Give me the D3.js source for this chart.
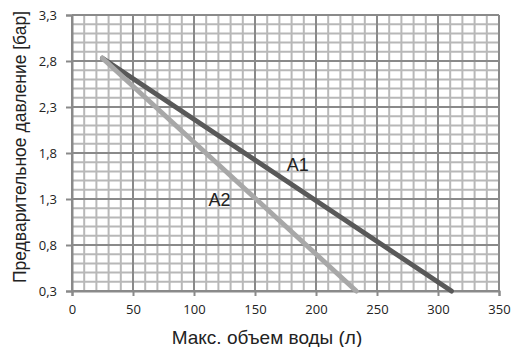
<!DOCTYPE html>
<html><head><meta charset="utf-8">
<script src="https://cdn.jsdelivr.net/npm/d3@7"></script>
<style>body{margin:0;background:#fff}svg{display:block}</style>
</head><body>
<svg id="c" width="511" height="347"></svg>
<script>
const xTicks = [0, 50, 100, 150, 200, 250, 300, 350];
const yTicks = [0.3, 0.8, 1.3, 1.8, 2.3, 2.8, 3.3];
const seriesNames = ["A1", "A2"];
const a1Volume = [25, 311];
const a1Pressure = [2.83, 0.3];
const a2Volume = [25, 233];
const a2Pressure = [2.83, 0.3];
const labelPos = [[185, 1.604], [121, 1.224]];
const xTitle = "Макс. объем воды (л)";
const yTitle = "Предварительное давление [бар]";

const svg = d3.select("#c");
const L = 72, R = 499, T = 15, B = 291;
const x = d3.scaleLinear().domain([0, 350]).range([L, R]);
const y = d3.scaleLinear().domain([0.3, 3.3]).range([B, T]);
const fmt = d => d.toFixed(1).replace(".", ",");

// minor grid
const xMinor = d3.range(0, 351, 10);
const yMinor = d3.range(0, 31).map(i => 0.3 + i * 0.1);
const g = svg.append("g");
g.selectAll(".vx").data(xMinor).join("line")
  .attr("x1", d => x(d)).attr("x2", d => x(d)).attr("y1", T).attr("y2", B)
  .attr("stroke", "#b8b8b8").attr("stroke-width", 2);
g.selectAll(".hy").data(yMinor).join("line")
  .attr("y1", d => y(d)).attr("y2", d => y(d)).attr("x1", L).attr("x2", R)
  .attr("stroke", "#b8b8b8").attr("stroke-width", 2);
// major grid
g.selectAll(".mx").data(xTicks).join("line")
  .attr("x1", d => x(d)).attr("x2", d => x(d)).attr("y1", T).attr("y2", B)
  .attr("stroke", "#8a8a8a").attr("stroke-width", 2);
g.selectAll(".my").data(yTicks).join("line")
  .attr("y1", d => y(d)).attr("y2", d => y(d)).attr("x1", L).attr("x2", R)
  .attr("stroke", "#8a8a8a").attr("stroke-width", 2);

// axes
const xAxis = svg.append("g").attr("transform", `translate(0,${B})`)
  .call(d3.axisBottom(x).tickValues(xTicks).tickFormat(d3.format("d")).tickSize(5).tickPadding(9));
const yAxis = svg.append("g").attr("transform", `translate(${L},0)`)
  .call(d3.axisLeft(y).tickValues(yTicks).tickFormat(fmt).tickSize(6).tickPadding(9));
[xAxis, yAxis].forEach(a => {
  a.select(".domain").attr("stroke", "#8a8a8a").attr("stroke-width", 2);
  a.selectAll(".tick line").attr("stroke", "#8a8a8a").attr("stroke-width", 2);
  a.selectAll("text").attr("fill", "#222").style("font-family", "'Open Sans', sans-serif").style("font-size", "13px");
});

// series
const line = d3.line().x(d => x(d[0])).y(d => y(d[1]));
const series = [
  {pts: a1Volume.map((v, i) => [v, a1Pressure[i]]), color: "#595959"},
  {pts: a2Volume.map((v, i) => [v, a2Pressure[i]]), color: "#a8a8a8"}
];
series.forEach(s => {
  svg.append("path").attr("d", line(s.pts)).attr("fill", "none")
    .attr("stroke", s.color).attr("stroke-width", 5).attr("stroke-linecap", "round");
});

// labels
seriesNames.forEach((n, i) => {
  svg.append("text").attr("x", x(labelPos[i][0])).attr("y", y(labelPos[i][1]))
    .attr("text-anchor", "middle").attr("fill", "#222")
    .style("font-family", "'Liberation Sans', Arial, sans-serif").style("font-size", "18px").text(n);
});

svg.append("text").attr("x", 267).attr("y", 344).attr("text-anchor", "middle")
  .attr("fill", "#222").style("font-family", "'Liberation Sans', Arial, sans-serif").style("font-size", "19px").text(xTitle);
svg.append("text").attr("transform", `translate(26,147) rotate(-90)`).attr("text-anchor", "middle")
  .attr("fill", "#222").style("font-family", "'Liberation Sans', Arial, sans-serif").style("font-size", "17.5px").text(yTitle);
</script>
</body></html>
